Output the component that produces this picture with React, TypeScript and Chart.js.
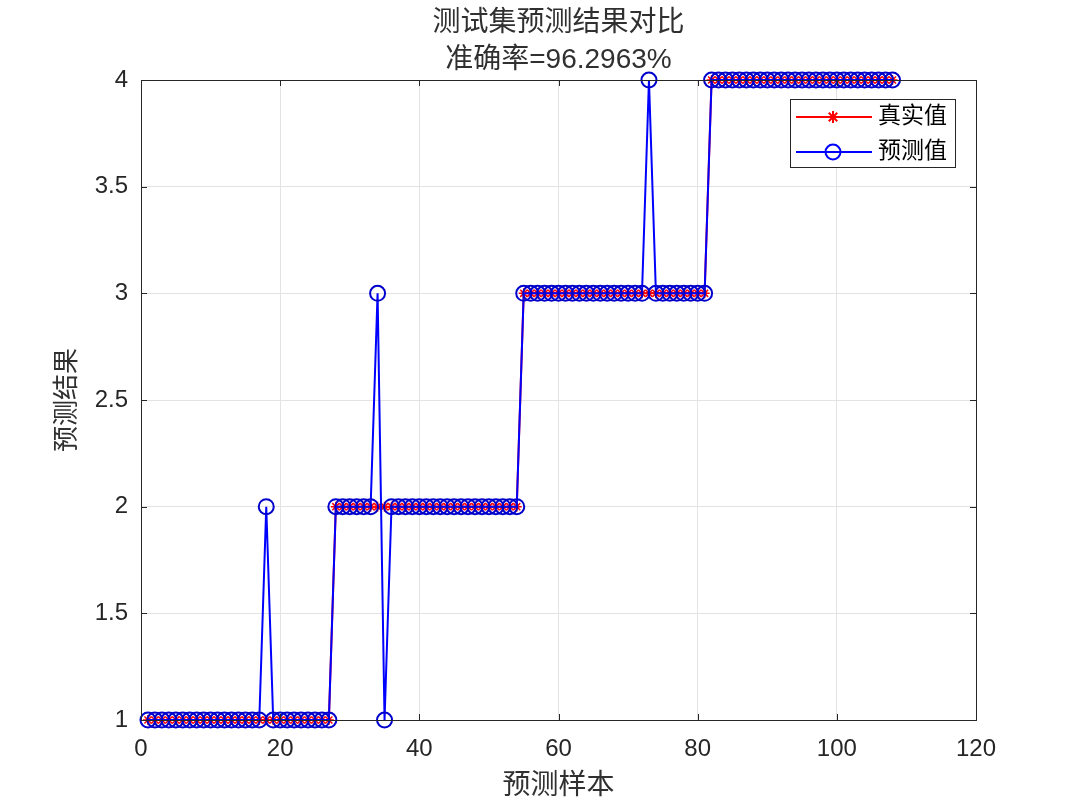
import React, { useEffect, useRef } from "react";
import { Chart, registerables } from "chart.js";

Chart.register(...registerables);

const titleLines = ["测试集预测结果对比", "准确率=96.2963%"];
const xTitle = "预测样本";
const yTitle = "预测结果";
const seriesNames = ["真实值", "预测值"];

const sampleIndex = [
  1, 2, 3, 4, 5, 6, 7, 8, 9, 10, 11, 12, 13, 14, 15, 16, 17, 18, 19, 20, 21, 22, 23, 24, 25, 26, 27,
  28, 29, 30, 31, 32, 33, 34, 35, 36, 37, 38, 39, 40, 41, 42, 43, 44, 45, 46, 47, 48, 49, 50, 51, 52, 53, 54,
  55, 56, 57, 58, 59, 60, 61, 62, 63, 64, 65, 66, 67, 68, 69, 70, 71, 72, 73, 74, 75, 76, 77, 78, 79, 80, 81,
  82, 83, 84, 85, 86, 87, 88, 89, 90, 91, 92, 93, 94, 95, 96, 97, 98, 99, 100, 101, 102, 103, 104, 105, 106, 107, 108,
];

const trueValues = [
  1, 1, 1, 1, 1, 1, 1, 1, 1, 1, 1, 1, 1, 1, 1, 1, 1, 1, 1, 1, 1, 1, 1, 1, 1, 1, 1,
  2, 2, 2, 2, 2, 2, 2, 2, 2, 2, 2, 2, 2, 2, 2, 2, 2, 2, 2, 2, 2, 2, 2, 2, 2, 2, 2,
  3, 3, 3, 3, 3, 3, 3, 3, 3, 3, 3, 3, 3, 3, 3, 3, 3, 3, 3, 3, 3, 3, 3, 3, 3, 3, 3,
  4, 4, 4, 4, 4, 4, 4, 4, 4, 4, 4, 4, 4, 4, 4, 4, 4, 4, 4, 4, 4, 4, 4, 4, 4, 4, 4,
];

const predValues = [
  1, 1, 1, 1, 1, 1, 1, 1, 1, 1, 1, 1, 1, 1, 1, 1, 1, 2, 1, 1, 1, 1, 1, 1, 1, 1, 1,
  2, 2, 2, 2, 2, 2, 3, 1, 2, 2, 2, 2, 2, 2, 2, 2, 2, 2, 2, 2, 2, 2, 2, 2, 2, 2, 2,
  3, 3, 3, 3, 3, 3, 3, 3, 3, 3, 3, 3, 3, 3, 3, 3, 3, 3, 4, 3, 3, 3, 3, 3, 3, 3, 3,
  4, 4, 4, 4, 4, 4, 4, 4, 4, 4, 4, 4, 4, 4, 4, 4, 4, 4, 4, 4, 4, 4, 4, 4, 4, 4, 4,
];

const xTicks = [0, 20, 40, 60, 80, 100, 120];
const yTicks = [1, 1.5, 2, 2.5, 3, 3.5, 4];

const TXT = "#262626";
const FONT = "'Liberation Sans', 'Noto Sans CJK SC', Arial, sans-serif";

const decorPlugin = {
  id: "decor",
  afterDraw(chart: any) {
    const { ctx, chartArea: a } = chart;
    const xs = chart.scales.x;
    const ys = chart.scales.y;
    ctx.save();
    // inner ticks
    ctx.strokeStyle = TXT;
    ctx.lineWidth = 1;
    const tl = 6;
    ctx.beginPath();
    xTicks.forEach((v) => {
      const px = Math.round(xs.getPixelForValue(v)) + 0.5;
      ctx.moveTo(px, a.bottom);
      ctx.lineTo(px, a.bottom - tl);
      ctx.moveTo(px, a.top);
      ctx.lineTo(px, a.top + tl);
    });
    yTicks.forEach((v) => {
      const py = Math.round(ys.getPixelForValue(v)) + 0.5;
      ctx.moveTo(a.left, py);
      ctx.lineTo(a.left + tl, py);
      ctx.moveTo(a.right, py);
      ctx.lineTo(a.right - tl, py);
    });
    ctx.stroke();
    // box
    ctx.strokeRect(Math.round(a.left) + 0.5, Math.round(a.top) + 0.5, Math.round(a.right - a.left), Math.round(a.bottom - a.top));

    // titles
    ctx.fillStyle = "#303030";
    ctx.textAlign = "center";
    ctx.textBaseline = "middle";
    ctx.font = `28px ${FONT}`;
    const cx = (a.left + a.right) / 2;
    ctx.fillText(titleLines[0], cx, 23);
    ctx.fillText(titleLines[1], cx, 60);
    ctx.font = `28px ${FONT}`;
    ctx.fillText(xTitle, cx, 786);
    ctx.save();
    ctx.translate(68, (a.top + a.bottom) / 2);
    ctx.rotate(-Math.PI / 2);
    ctx.font = `26px ${FONT}`;
    ctx.fillText(yTitle, 0, 0);
    ctx.restore();

    // legend
    const lx = 790, ly = 99, lw = 165, lh = 68;
    ctx.fillStyle = "#ffffff";
    ctx.fillRect(lx, ly, lw, lh);
    ctx.strokeStyle = TXT;
    ctx.lineWidth = 1;
    ctx.strokeRect(lx + 0.5, ly + 0.5, lw, lh);
    const rows = [117, 152];
    chart.data.datasets.forEach((ds: any, i: number) => {
      const y = rows[i];
      ctx.strokeStyle = ds.borderColor;
      ctx.lineWidth = 2;
      ctx.beginPath();
      ctx.moveTo(796, y);
      ctx.lineTo(872, y);
      ctx.stroke();
      if (i === 0) {
        const r = 6;
        ctx.beginPath();
        for (let k = 0; k < 4; k++) {
          const ang = (k * Math.PI) / 4;
          ctx.moveTo(833 - r * Math.cos(ang), y - r * Math.sin(ang));
          ctx.lineTo(833 + r * Math.cos(ang), y + r * Math.sin(ang));
        }
        ctx.stroke();
      } else {
        ctx.beginPath();
        ctx.arc(833, y, 7.5, 0, Math.PI * 2);
        ctx.stroke();
      }
      ctx.fillStyle = "#000000";
      ctx.textAlign = "left";
      ctx.font = `23px ${FONT}`;
      ctx.fillText(ds.label, 878, y);
    });
    ctx.restore();
  },
};

export default function App() {
  const ref = useRef<HTMLCanvasElement | null>(null);
  useEffect(() => {
    if (!ref.current) return;
    const chart = new Chart(ref.current, {
      type: "line",
      data: {
        datasets: [
          {
            label: seriesNames[0],
            data: sampleIndex.map((x, i) => ({ x, y: trueValues[i] })),
            borderColor: "#ff0000",
            backgroundColor: "#ff0000",
            borderWidth: 2,
            pointStyle: "star",
            pointRadius: 5,
            pointBorderWidth: 1.5,
            pointBorderColor: "#ff0000",
            fill: false,
            tension: 0,
            clip: false,
            order: 1,
          },
          {
            label: seriesNames[1],
            data: sampleIndex.map((x, i) => ({ x, y: predValues[i] })),
            borderColor: "#0000ff",
            backgroundColor: "rgba(0,0,0,0)",
            borderWidth: 2,
            pointStyle: "circle",
            pointRadius: 7.5,
            pointBorderWidth: 2,
            pointBorderColor: "#0000cc",
            pointBackgroundColor: "rgba(0,0,0,0)",
            fill: false,
            tension: 0,
            clip: false,
            order: 0,
          },
        ],
      },
      options: {
        animation: false,
        responsive: false,
        maintainAspectRatio: false,
        layout: { padding: { left: 0, top: 80, right: 104, bottom: 0 } },
        plugins: {
          legend: { display: false },
          title: { display: false },
          tooltip: { enabled: false },
        },
        scales: {
          x: {
            type: "linear",
            min: 0,
            max: 120,
            afterBuildTicks: (s: any) => {
              s.ticks = xTicks.map((v) => ({ value: v }));
            },
            afterFit: (s: any) => {
              s.height = 88;
            },
            grid: { color: "#e3e3e3", drawTicks: false, lineWidth: 1 },
            border: { display: false },
            ticks: {
              color: TXT,
              font: { size: 24, family: FONT },
              padding: 15,
              maxRotation: 0,
              autoSkip: false,
              callback: (v: any) => `${v}`,
            },
          },
          y: {
            type: "linear",
            min: 1,
            max: 4,
            afterBuildTicks: (s: any) => {
              s.ticks = yTicks.map((v) => ({ value: v }));
            },
            afterFit: (s: any) => {
              s.width = 141;
            },
            grid: { color: "#e3e3e3", drawTicks: false, lineWidth: 1 },
            border: { display: false },
            ticks: {
              color: TXT,
              font: { size: 24, family: FONT },
              padding: 13,
              autoSkip: false,
              callback: (v: any) => `${v}`,
            },
          },
        },
      },
      plugins: [decorPlugin],
    });
    return () => chart.destroy();
  }, []);
  return (
    <div style={{ position: "absolute", left: 0, top: 0, width: 1080, height: 808, background: "#fff" }}>
      <canvas ref={ref} width={1080} height={808} style={{ width: 1080, height: 808 }} />
    </div>
  );
}
